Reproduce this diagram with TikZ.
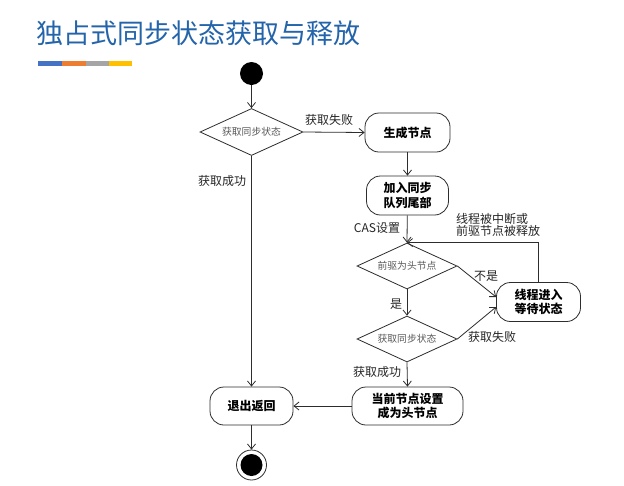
\documentclass[tikz,border=0pt]{standalone}
\usepackage{fontspec}
\setmainfont{Noto Sans CJK SC}
\usetikzlibrary{shapes.geometric,arrows.meta}
\definecolor{titleblue}{RGB}{35,100,170}
\definecolor{barblue}{RGB}{68,114,196}
\definecolor{barorange}{RGB}{237,125,49}
\definecolor{bargray}{RGB}{165,165,165}
\definecolor{baryellow}{RGB}{255,192,0}
\definecolor{linecol}{RGB}{45,45,45}
\begin{document}
\begin{tikzpicture}[x=1pt,y=-1pt,
  every node/.style={inner sep=0pt},
  conn/.style={draw=linecol,line width=0.8pt,-{Straight Barb[length=5pt,width=8pt]}},
  actbox/.style={draw=linecol,line width=0.8pt,rectangle,rounded corners=14pt,align=center,
     font=\fontsize{12}{14.5}\selectfont\bfseries,text=black},
  decision/.style={draw=linecol,line width=0.8pt,diamond,aspect=2.2,inner sep=0pt,
     font=\fontsize{9.8}{11}\selectfont,text=black!65},
  lbl/.style={font=\fontsize{12}{14}\selectfont,text=black!85,align=left},
  startdot/.style={circle,fill=black,minimum size=23pt},
  enddot/.style={circle,draw=linecol,line width=0.8pt,minimum size=30pt}
]
\useasboundingbox[fill=white] (0,0) rectangle (624,485);
% title and color bar
\node[anchor=west,text=titleblue,font=\fontsize{27}{31}\selectfont] (title) at (36,33) {独占式同步状态获取与释放};
\fill[barblue]   (38,61) rectangle (62,66);
\fill[barorange] (62,61) rectangle (86,66);
\fill[bargray]   (86,61) rectangle (109,66);
\fill[baryellow] (109,61) rectangle (132,66);
% nodes
\node[startdot] (start) at (251.5,73.5) {};
\node[decision,minimum width=103pt,minimum height=47pt] (d1) at (251.5,132) {获取同步状态};
\node[actbox,minimum width=85pt,minimum height=39pt] (gen) at (407.5,132.5) {生成节点};
\node[actbox,minimum width=82pt,minimum height=39pt] (join) at (407.5,195.5) {加入同步\\队列尾部};
\node[decision,minimum width=100pt,minimum height=46pt] (d2) at (407,266) {前驱为头节点};
\node[actbox,minimum width=84pt,minimum height=39pt] (wait) at (538.5,302) {线程进入\\等待状态};
\node[decision,minimum width=100pt,minimum height=46pt] (d3) at (407,339) {获取同步状态};
\node[actbox,minimum width=111pt,minimum height=38pt] (cur) at (407.5,406) {当前节点设置\\成为头节点};
\node[actbox,minimum width=83pt,minimum height=38pt] (exit) at (251.5,406) {退出返回};
\node[enddot] (end) at (251.5,465) {};
\fill[black] (end.center) circle (11pt);
% connectors
\draw[conn] (start) -- (d1.north);
\draw[conn] (d1.east) -- (gen.west);
\draw[conn] (gen) -- (join);
\draw[conn] (join) -- (d2.north);
\draw[conn] (d1.south) -- (exit.north);
\draw[conn] (d2.south) -- (d3.north);
\draw[conn] (d2.east) -- ([yshift=5pt]wait.west);
\draw[conn] (d3.east) -- ([yshift=-5pt]wait.west);
\draw[conn] (wait.north) |- (d2.north);
\draw[conn] (d3.south) -- (cur.north);
\draw[conn] (cur.west) -- (exit.east);
\draw[conn] (exit.south) -- (end.north);
% labels
\node[lbl] (l1) at (329,120) {获取失败};
\node[lbl] (l2) at (222,181) {获取成功};
\node[lbl] (l3) at (377,228) {CAS设置};
\node[lbl,anchor=west,font=\fontsize{12}{12.5}\selectfont] (l4) at (456,225) {线程被中断或\\前驱节点被释放};
\node[lbl] (l5) at (486,276) {不是};
\node[lbl] (l6) at (396,304) {是};
\node[lbl] (l7) at (492,337) {获取失败};
\node[lbl] (l8) at (377,372) {获取成功};
\end{tikzpicture}
\end{document}
